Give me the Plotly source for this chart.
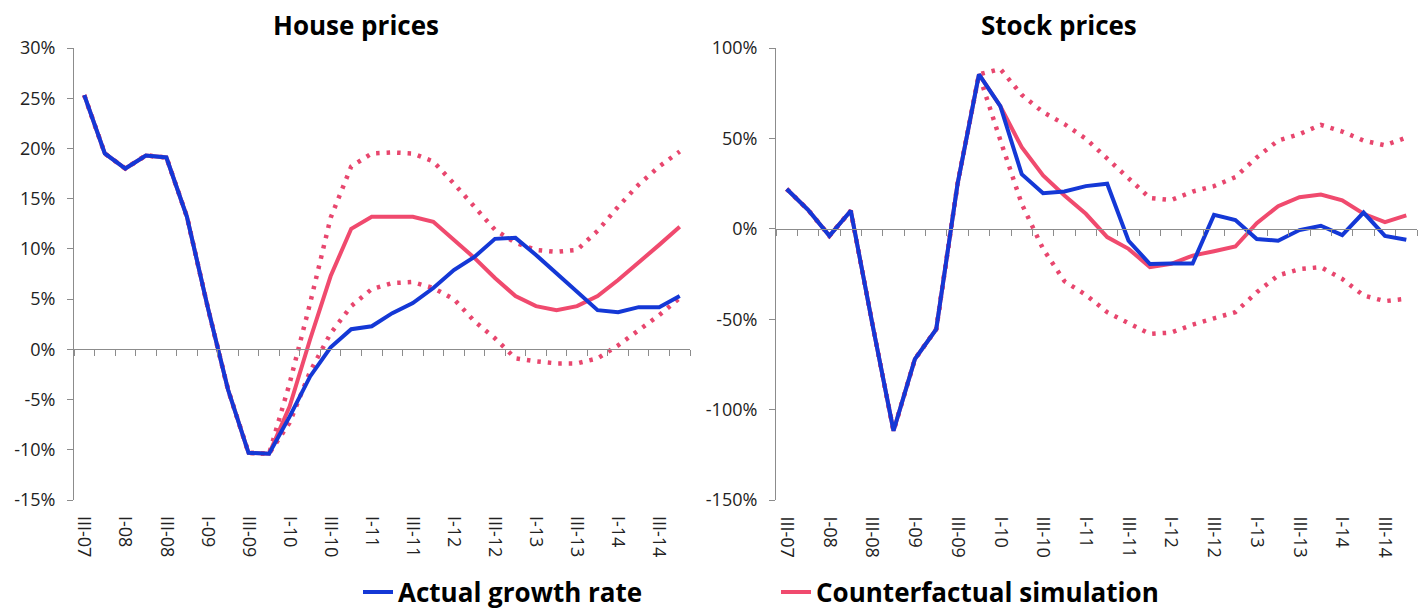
import plotly.graph_objects as go
from plotly.subplots import make_subplots

quarters = ["III-07", "IV-07", "I-08", "II-08", "III-08", "IV-08", "I-09", "II-09",
            "III-09", "IV-09", "I-10", "II-10", "III-10", "IV-10", "I-11", "II-11",
            "III-11", "IV-11", "I-12", "II-12", "III-12", "IV-12", "I-13", "II-13",
            "III-13", "IV-13", "I-14", "II-14", "III-14", "IV-14"]
tick_labels = [q for q in quarters if q.startswith("I-") or q.startswith("III-")]

# house prices, % y/y
house_actual = [25.3, 19.5, 18.0, 19.3, 19.1, 13.2, 4.3, -4.0, -10.3, -10.4,
                -6.7, -2.7, 0.2, 2.0, 2.3, 3.6, 4.6, 6.1, 7.9, 9.2,
                11.0, 11.1, 9.4, 7.6, 5.8, 3.9, 3.7, 4.2, 4.2, 5.3]
house_cf = [25.3, 19.5, 18.0, 19.3, 19.1, 13.2, 4.3, -4.0, -10.3, -10.4,
            -5.7, 1.0, 7.3, 12.0, 13.2, 13.2, 13.2, 12.7, 10.9, 9.1,
            7.1, 5.3, 4.3, 3.9, 4.3, 5.3, 6.9, 8.6, 10.4, 12.2]
house_upper = [25.3, 19.5, 18.0, 19.3, 19.1, 13.2, 4.3, -4.0, -10.3, -10.4,
               -3.4, 4.6, 13.1, 18.2, 19.5, 19.6, 19.5, 18.7, 16.5, 14.2,
               11.9, 10.6, 9.9, 9.7, 9.9, 11.8, 14.2, 16.4, 18.2, 19.7]
house_lower = [25.3, 19.5, 18.0, 19.3, 19.1, 13.2, 4.3, -4.0, -10.3, -10.4,
               -7.3, -2.2, 1.6, 4.3, 6.0, 6.6, 6.7, 6.1, 5.0, 2.8,
               1.1, -0.9, -1.2, -1.4, -1.4, -0.9, 0.4, 1.9, 3.4, 5.1]

# stock prices, % y/y
stock_actual = [22.0, 10.5, -3.9, 10.0, -52.0, -111.7, -72.1, -55.5, 25.0, 85.4,
                67.8, 30.2, 19.7, 20.6, 23.6, 24.9, -6.6, -19.5, -19.2, -19.2,
                7.7, 4.8, -5.7, -6.6, -0.7, 1.7, -3.5, 9.0, -3.9, -6.1]
stock_cf = [22.0, 10.5, -3.9, 10.0, -52.0, -111.7, -72.1, -55.5, 25.0, 85.4,
            67.8, 45.1, 29.5, 18.4, 8.3, -4.6, -11.1, -21.2, -19.4, -14.8,
            -12.4, -9.8, 3.1, 12.5, 17.5, 19.0, 15.7, 8.3, 3.7, 7.4]
stock_upper = [22.0, 10.5, -3.9, 10.0, -52.0, -111.7, -72.1, -55.5, 25.0, 85.4,
               88.4, 74.1, 64.5, 57.9, 49.8, 38.7, 27.6, 17.0, 15.9, 20.6,
               23.6, 28.6, 39.5, 48.8, 52.4, 57.5, 53.8, 48.8, 46.2, 50.5]
stock_lower = [22.0, 10.5, -3.9, 10.0, -52.0, -111.7, -72.1, -55.5, 25.0, 85.4,
               49.0, 13.8, -11.1, -29.0, -36.5, -46.1, -52.2, -58.1, -57.4, -53.0,
               -49.5, -46.1, -35.1, -25.8, -22.3, -21.2, -27.7, -36.9, -40.0, -38.7]

house_yticks = [-15, -10, -5, 0, 5, 10, 15, 20, 25, 30]
stock_yticks = [-150, -100, -50, 0, 50, 100]

BLUE = "#1438D6"
PINK = "#F04A6E"
DOT = "#E8466E"
AXIS = "#8c8c8c"
FONT = "Open Sans"

x = list(range(len(quarters)))
label_pos = [quarters.index(q) for q in tick_labels]

fig = make_subplots(rows=1, cols=2)

for col, (act, cf, up, lo) in enumerate([(house_actual, house_cf, house_upper, house_lower),
                                         (stock_actual, stock_cf, stock_upper, stock_lower)], start=1):
    for band in (up, lo):
        fig.add_scatter(x=x, y=band, mode="lines", showlegend=False, hoverinfo="skip",
                        line=dict(color=DOT, width=4.5, dash="3.5px,7px"), row=1, col=col)
    fig.add_scatter(x=x, y=cf, mode="lines", name="Counterfactual simulation",
                    legend="legend2", showlegend=(col == 1),
                    line=dict(color=PINK, width=4), row=1, col=col)
    fig.add_scatter(x=x, y=act, mode="lines", name="Actual growth rate",
                    showlegend=(col == 1),
                    line=dict(color=BLUE, width=4), row=1, col=col)

W, H = 1424, 610
ml, mr, mt, mb = 74, 7, 48, 110
pw, ph = W - ml - mr, H - mt - mb

xcommon = dict(range=[-0.5, len(quarters) - 0.5], tickmode="array", tickvals=label_pos,
               ticktext=tick_labels, tickangle=90, ticks="", showline=True,
               linecolor=AXIS, linewidth=1, showgrid=False, zeroline=False,
               anchor="free", tickfont=dict(family=FONT, size=18, color="#222"),
               minor=dict(ticks="outside", tickmode="linear", tick0=-0.5, dtick=1,
                          ticklen=6, tickcolor=AXIS, showgrid=False))
fig.update_layout(
    xaxis=dict(xcommon, domain=[0, 616 / pw],
               position=(0 - house_yticks[0]) / (house_yticks[-1] - house_yticks[0]),
               ticklabelstandoff=162),
    xaxis2=dict(xcommon, domain=[702 / pw, 1],
                position=(0 - stock_yticks[0]) / (stock_yticks[-1] - stock_yticks[0]),
                ticklabelstandoff=283),
)

ycommon = dict(tickmode="array", ticks="outside", ticklen=6, tickcolor=AXIS,
               showline=True, linecolor=AXIS, linewidth=1, showgrid=False, zeroline=False,
               tickfont=dict(family=FONT, size=18, color="#222"), ticklabelstandoff=8)
fig.update_layout(
    yaxis=dict(ycommon, range=[house_yticks[0], house_yticks[-1]], tickvals=house_yticks,
               ticktext=[f"{v}%" for v in house_yticks]),
    yaxis2=dict(ycommon, range=[stock_yticks[0], stock_yticks[-1]], tickvals=stock_yticks,
                ticktext=[f"{v}%" for v in stock_yticks]),
)

title_font = dict(family=FONT, size=26, color="black", weight="bold")
for txt, px_x in (("House prices", 356), ("Stock prices", 1059)):
    fig.add_annotation(text=txt, xref="paper", yref="paper", x=(px_x - ml) / pw,
                       y=(mt + ph - 25) / ph, xanchor="center", yanchor="middle",
                       showarrow=False, font=title_font)

legend_font = dict(family=FONT, size=26, color="black", weight="bold")
fig.update_layout(
    width=W, height=H,
    margin=dict(l=ml, r=mr, t=mt, b=mb, autoexpand=False),
    plot_bgcolor="white", paper_bgcolor="white",
    legend=dict(x=(358 - ml) / pw, y=(mt + ph - 592) / ph, xanchor="left",
                yanchor="middle", orientation="h", font=legend_font, bgcolor="rgba(0,0,0,0)"),
    legend2=dict(x=(776 - ml) / pw, y=(mt + ph - 592) / ph, xanchor="left",
                 yanchor="middle", orientation="h", font=legend_font, bgcolor="rgba(0,0,0,0)"),
    hovermode=False,
)

fig.write_html("out.html", config={"displayModeBar": False},
               post_script="document.body.style.margin='0';")
